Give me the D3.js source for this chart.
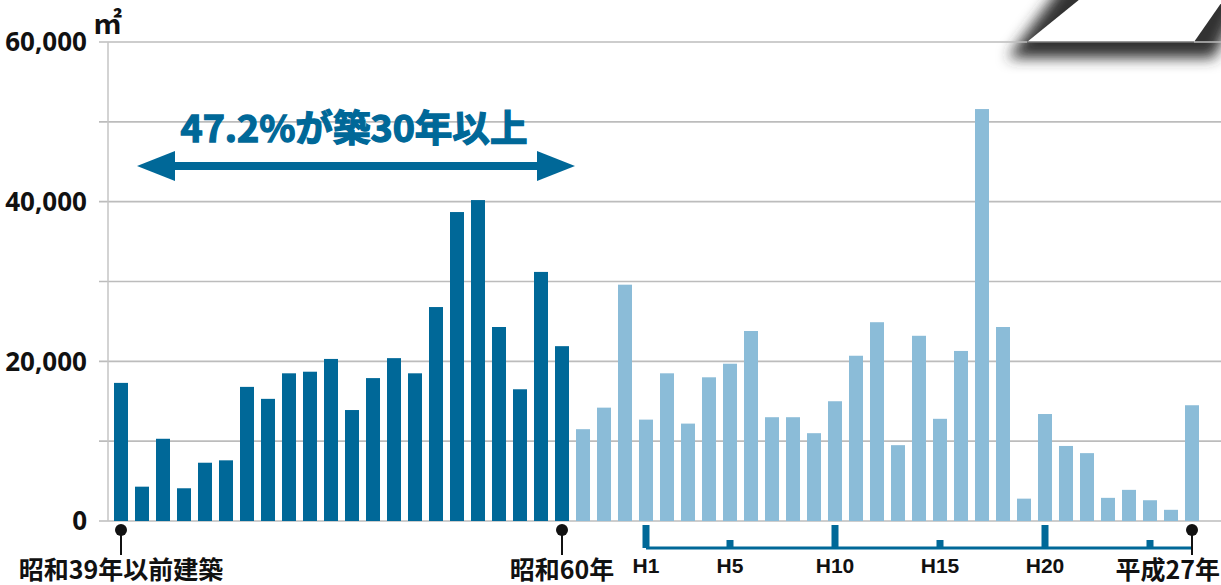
<!DOCTYPE html>
<html>
<head>
<meta charset="utf-8">
<script src="https://cdn.jsdelivr.net/npm/d3@7"></script>
<style>
  body { margin: 0; background: #fff; }
  svg { display: block; }
  .ylab { font-family: "Noto Sans", "Noto Sans CJK JP", sans-serif; font-weight: 700; font-size: 26px; fill: #111; }
  .jp { font-family: "Noto Sans CJK JP", sans-serif; font-weight: 700; fill: #111; }
  .era { font-family: "Liberation Sans Narrow", "Liberation Sans", sans-serif; font-weight: 700; font-size: 21px; fill: #111; }
</style>
</head>
<body>
<div id="chart"></div>
<script>
// 延床面積（㎡）建築年度別
var svgWidth = 1221;
var svgHeight = 585;

// 昭和39年以前 〜 昭和60年 (築30年以上)
var oldYears = ["S39以前", "S40", "S41", "S42", "S43", "S44", "S45", "S46", "S47", "S48", "S49",
  "S50", "S51", "S52", "S53", "S54", "S55", "S56", "S57", "S58", "S59", "S60"];
var oldArea = [17300, 4300, 10300, 4100, 7300, 7600, 16800, 15300, 18500, 18700, 20300,
  13900, 17900, 20400, 18500, 26800, 38700, 40200, 24300, 16500, 31200, 21900];

// 昭和61年 〜 平成27年
var newYears = ["S61", "S62", "S63", "H1", "H2", "H3", "H4", "H5", "H6", "H7", "H8", "H9", "H10",
  "H11", "H12", "H13", "H14", "H15", "H16", "H17", "H18", "H19", "H20", "H21", "H22", "H23",
  "H24", "H25", "H26", "H27"];
var newArea = [11500, 14200, 29600, 12700, 18500, 12200, 18000, 19700, 23800, 13000, 13000,
  11000, 15000, 20700, 24900, 9500, 23200, 12800, 21300, 51600, 24300, 2800, 13400, 9400,
  8500, 2900, 3900, 2600, 1400, 14500];

var gridTicks = [0, 10000, 20000, 30000, 40000, 50000, 60000];
var labelTicks = [0, 20000, 40000, 60000];

var eraTicks = ["H1", "H5", "H10", "H15", "H20", "H25"];
var eraLabels = ["H1", "H5", "H10", "H15", "H20", ""];
var eraMajor = ["H1", "H10", "H20"];

var pinYears = ["S39以前", "S60", "H27"];
var pinLabels = ["昭和39年以前建築", "昭和60年", "平成27年"];

var annotation = "47.2%が築30年以上";

var darkBlue = "#006898";
var lightBlue = "#8bbcd8";

var data = oldYears.map((y, i) => ({ year: y, area: oldArea[i], old: true }))
  .concat(newYears.map((y, i) => ({ year: y, area: newArea[i], old: false })));

var svg = d3.select("#chart").append("svg").attr("width", svgWidth).attr("height", svgHeight);

var xScale = d3.scaleBand().domain(data.map(d => d.year)).range([110.5, 1202.5])
  .paddingInner(1 / 3).paddingOuter(1 / 6);
var yScale = d3.scaleLinear().domain([0, 60000]).range([521, 42]);
var cx = y => xScale(y) + xScale.bandwidth() / 2;

// top-right decoration (cut-off label box with shadow)
var defs = svg.append("defs");
var blur = defs.append("filter").attr("id", "shadow").attr("x", "-20%").attr("y", "-50%").attr("width", "140%").attr("height", "200%");
blur.append("feGaussianBlur").attr("stdDeviation", 7);
svg.append("polygon")
  .attr("points", "1008,58 1066,-20 1250,-20 1214,58")
  .attr("fill", "#303030")
  .attr("filter", "url(#shadow)");

// gridlines
svg.append("g").selectAll("line").data(gridTicks).enter()
  .append("line")
  .attr("x1", 99).attr("x2", svgWidth)
  .attr("y1", d => yScale(d)).attr("y2", d => yScale(d))
  .attr("stroke", "#bcbcbc").attr("stroke-width", 1.6);

svg.append("polygon")
  .attr("points", "1027,42 1080,-1 1224,-1 1194,42")
  .attr("fill", "#fff");
svg.append("line").attr("x1", 1027).attr("x2", 1194).attr("y1", 42).attr("y2", 42)
  .attr("stroke", "#333").attr("stroke-width", 1);

svg.append("line")
  .attr("x1", 108).attr("x2", 108).attr("y1", 42).attr("y2", 521)
  .attr("stroke", "#c4c4c4").attr("stroke-width", 1.5);

// y labels
svg.append("g").selectAll("text").data(labelTicks).enter()
  .append("text")
  .classed("ylab", true)
  .attr("x", 87)
  .attr("y", d => yScale(d))
  .attr("dy", "0.36em")
  .attr("text-anchor", "end")
  .text(d => d3.format(",")(d));

svg.append("text").classed("jp", true)
  .attr("x", 93).attr("y", 34).attr("font-size", 29).attr("font-weight", 400)
  .text("㎡");

// bars
svg.append("g").selectAll("rect").data(data).enter()
  .append("rect")
  .attr("x", d => xScale(d.year))
  .attr("width", xScale.bandwidth())
  .attr("y", d => yScale(d.area))
  .attr("height", d => yScale(0) - yScale(d.area))
  .attr("fill", d => d.old ? darkBlue : lightBlue);

// annotation with double arrow
var arrowY = 166;
var ax1 = 137, ax2 = 575;
svg.append("rect").attr("x", ax1 + 36).attr("y", arrowY - 4).attr("width", ax2 - ax1 - 72).attr("height", 8).attr("fill", darkBlue);
svg.append("polygon")
  .attr("points", `${ax1},${arrowY} ${ax1 + 38},${arrowY - 15} ${ax1 + 38},${arrowY + 15}`)
  .attr("fill", darkBlue);
svg.append("polygon")
  .attr("points", `${ax2},${arrowY} ${ax2 - 38},${arrowY - 15} ${ax2 - 38},${arrowY + 15}`)
  .attr("fill", darkBlue);
svg.append("text").classed("jp", true)
  .attr("x", 354).attr("y", 142)
  .attr("text-anchor", "middle")
  .attr("font-size", 37).attr("font-weight", 900)
  .attr("textLength", 347).attr("lengthAdjust", "spacingAndGlyphs")
  .style("fill", darkBlue)
  .attr("stroke", darkBlue).attr("stroke-width", 1.3)
  .text(annotation);

// era axis (平成)
var eraX1 = cx("H1"), eraX2 = cx("H27");
svg.append("line").attr("x1", eraX1).attr("x2", eraX2).attr("y1", 548).attr("y2", 548)
  .attr("stroke", darkBlue).attr("stroke-width", 3);
svg.append("g").selectAll("rect").data(eraTicks).enter()
  .append("rect")
  .attr("x", d => cx(d) - 3.5)
  .attr("width", 7)
  .attr("y", d => eraMajor.includes(d) ? 525 : 540)
  .attr("height", d => eraMajor.includes(d) ? 23 : 8)
  .attr("fill", darkBlue);
svg.append("g").selectAll("text").data(eraTicks).enter()
  .append("text")
  .classed("era", true)
  .attr("x", d => cx(d))
  .attr("y", 573)
  .attr("text-anchor", "middle")
  .text((d, i) => eraLabels[i]);

// pins
var pins = svg.append("g").selectAll("g").data(pinYears).enter().append("g");
pins.append("line")
  .attr("x1", d => cx(d)).attr("x2", d => cx(d))
  .attr("y1", 530).attr("y2", 555)
  .attr("stroke", "#111").attr("stroke-width", 2);
pins.append("circle")
  .attr("cx", d => cx(d)).attr("cy", 530).attr("r", 6)
  .attr("fill", "#111");
pins.append("text").classed("jp", true)
  .attr("x", (d, i) => i == 2 ? 1220 : cx(d))
  .attr("y", 579)
  .attr("text-anchor", (d, i) => i == 2 ? "end" : "middle")
  .attr("font-size", 25)
  .text((d, i) => pinLabels[i]);
</script>
</body>
</html>
